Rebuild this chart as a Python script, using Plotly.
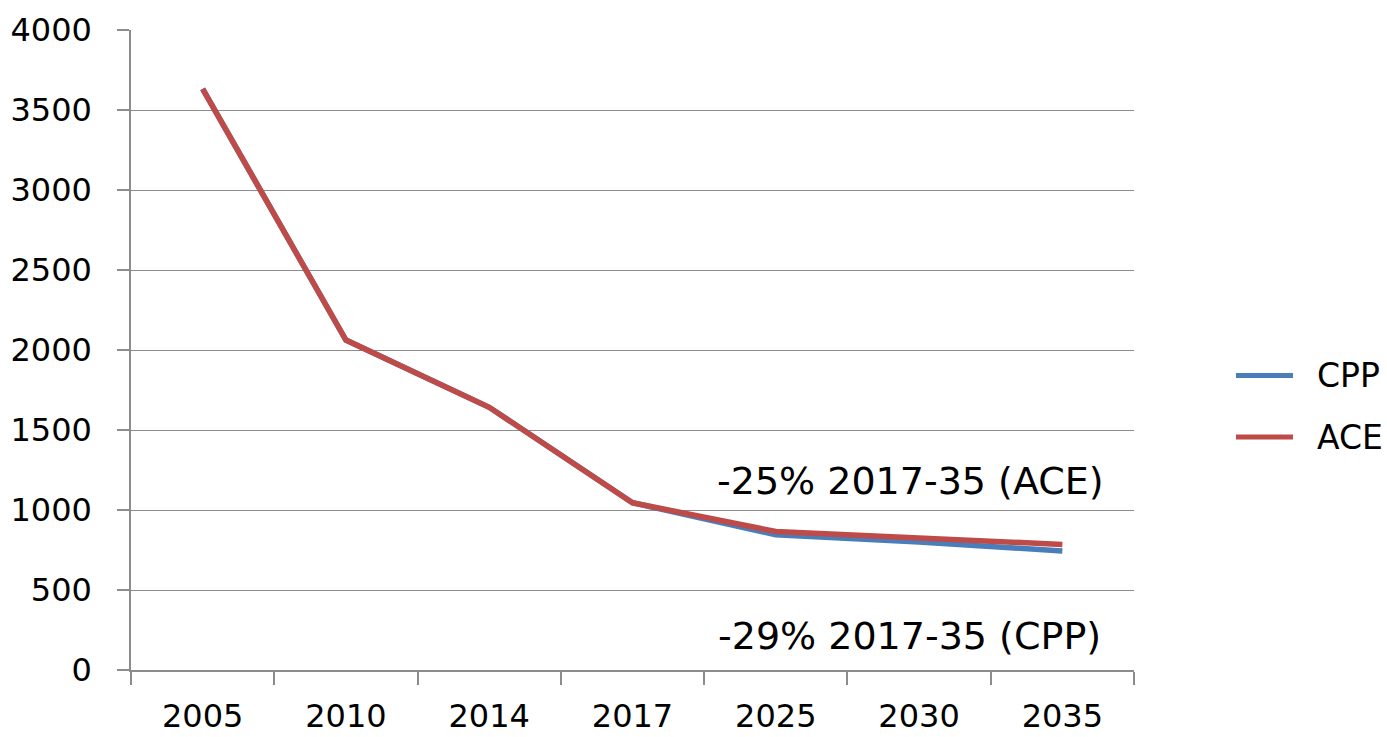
import plotly.graph_objects as go

years = ["2005", "2010", "2014", "2017", "2025", "2030", "2035"]
cpp = [3632, 2062, 1642, 1045, 845, 800, 744]
ace = [3632, 2062, 1642, 1045, 866, 825, 785]
y_ticks = [0, 500, 1000, 1500, 2000, 2500, 3000, 3500, 4000]
note_ace = "-25% 2017-35 (ACE)"
note_cpp = "-29% 2017-35 (CPP)"
series_names = ["CPP", "ACE"]
series_colors = ["#4a7ebb", "#be4b48"]

FONT = "DejaVu Sans"
GRID = "#8c8c8c"

fig = go.Figure()
for name, vals, col in zip(series_names, [cpp, ace], series_colors):
    fig.add_trace(go.Scatter(x=years, y=vals, mode="lines", name=name,
                             line=dict(color=col, width=5.5),
                             showlegend=False))

fig.add_annotation(xref="paper", yref="y", x=0.972, y=1181, text=note_ace,
                   showarrow=False, xanchor="right", yanchor="middle",
                   font=dict(family=FONT, size=38, color="black"))
fig.add_annotation(xref="paper", yref="y", x=0.969, y=212, text=note_cpp,
                   showarrow=False, xanchor="right", yanchor="middle",
                   font=dict(family=FONT, size=38, color="black"))

# legend (drawn in paper coordinates to match the reference layout)
leg_y = [0.460, 0.364]
for name, col, ly in zip(series_names, series_colors, leg_y):
    fig.add_shape(type="line", xref="paper", yref="paper",
                  x0=1.1017, x1=1.1585, y0=ly, y1=ly,
                  line=dict(color=col, width=5))
    fig.add_annotation(xref="paper", yref="paper", x=1.1805, y=ly, text=name,
                       showarrow=False, xanchor="left", yanchor="middle",
                       font=dict(family=FONT, size=33, color="black"))

fig.update_layout(
    width=1387, height=737,
    margin=dict(l=131, r=253, t=30, b=67),
    paper_bgcolor="white", plot_bgcolor="white",
    font=dict(family=FONT, size=32, color="black"),
    showlegend=False,
    xaxis=dict(type="category", categoryorder="array", categoryarray=years,
               range=[-0.5, 6.5], automargin=False,
               tickson="boundaries", ticks="outside", ticklen=13,
               tickcolor=GRID, tickwidth=1.5,
               showline=True, linecolor=GRID, linewidth=1.5,
               showgrid=False, zeroline=False,
               ticklabelstandoff=17,
               tickfont=dict(family=FONT, size=32, color="black")),
    yaxis=dict(range=[0, 4000], tickvals=y_ticks, ticks="outside", ticklen=12,
               automargin=False,
               tickcolor=GRID, tickwidth=1.5,
               showline=True, linecolor=GRID, linewidth=1.5,
               showgrid=True, gridcolor=GRID, gridwidth=1,
               zeroline=False, ticklabelstandoff=19,
               tickfont=dict(family=FONT, size=32, color="black")),
)

fig.write_html("out.html",
               config={"displayModeBar": False},
               post_script="document.body.style.margin='0';"
                           "document.body.style.overflow='hidden';")
